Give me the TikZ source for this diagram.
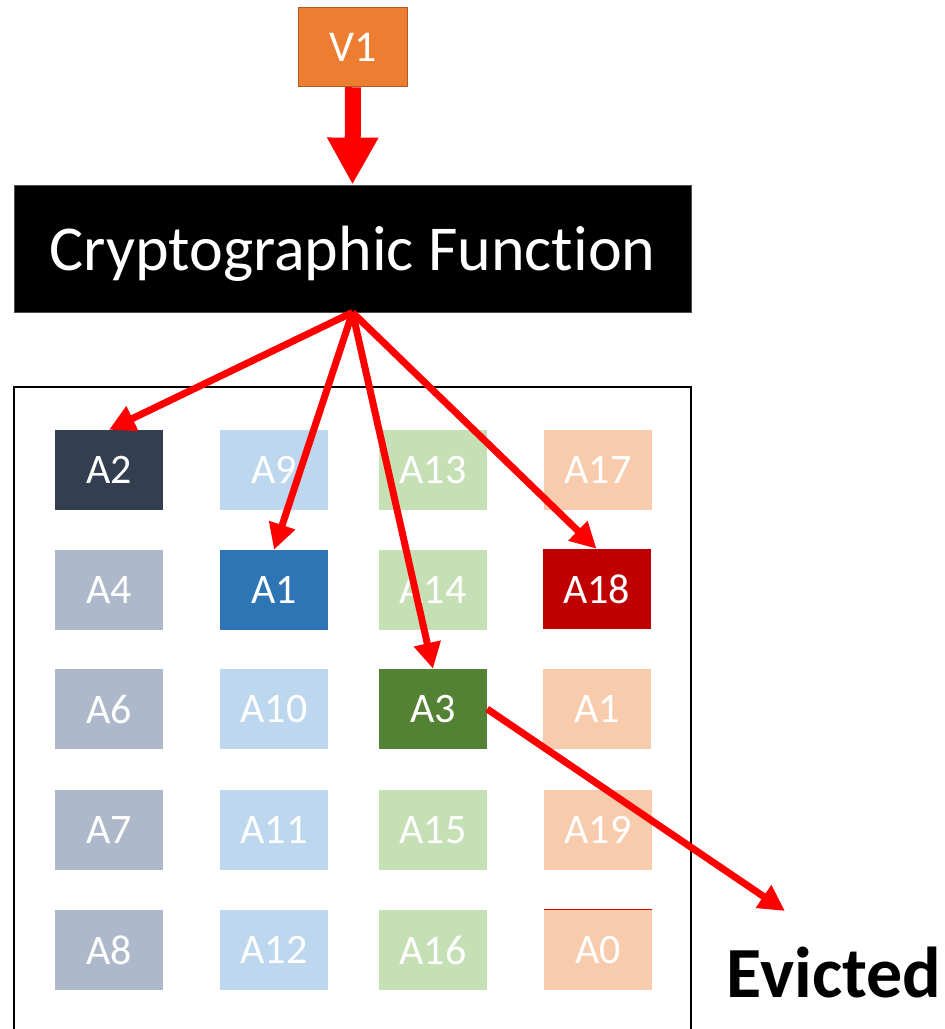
\documentclass[tikz,border=0pt]{standalone}
\usepackage{fontspec}
\setmainfont[RawFeature=-liga]{Carlito}
\usetikzlibrary{arrows.meta}
\definecolor{vorange}{HTML}{ED7D31}
\definecolor{vborder}{HTML}{AE5A21}
\definecolor{greyL}{HTML}{ADB9CA}
\definecolor{greyD}{HTML}{333F50}
\definecolor{blueL}{HTML}{BDD7EE}
\definecolor{blueD}{HTML}{2E75B6}
\definecolor{greenL}{HTML}{C5E0B4}
\definecolor{greenD}{HTML}{548235}
\definecolor{peachL}{HTML}{F8CBAD}
\definecolor{redD}{HTML}{C00000}
\tikzset{
  cell/.style={minimum width=108pt, minimum height=80pt, inner sep=0pt, text=white, font=\fontsize{42}{50}\selectfont},
  hasharrow/.style={draw=red, line width=7pt, -{Triangle[length=26pt,width=26pt]}},
  bigarrow/.style={draw=red, line width=16pt, -{Triangle[length=47pt,width=48pt]}}
}
\begin{document}
\begin{tikzpicture}[x=1pt,y=-1pt]
\useasboundingbox (0,0) rectangle (945,1029);
\clip (0,0) rectangle (945,1029);
\fill[white] (0,0) rectangle (945,1029);

% container
\draw[line width=2pt] (14,387) rectangle (691,1070);

% V1 and function
\node[fill=vorange, draw=vborder, line width=1.5pt, minimum width=109pt, minimum height=79pt, inner sep=0pt, text=white, font=\fontsize{44}{50}\selectfont] (V) at (353,47) {V1};
\node[fill=black, draw=black!70, line width=0.8pt, minimum width=677pt, minimum height=127pt, inner sep=0pt, text=white, text depth=0pt, font=\fontsize{64}{70}\selectfont] (F) at (352.5,248.5) {Cryptographic Function};

% grid
\node[cell, fill=greyD]  (c11) at (109,470) {A2};
\node[cell, fill=blueL]  (c12) at (274,470) {A9};
\node[cell, fill=greenL] (c13) at (433,470) {A13};
\node[cell, fill=peachL] (c14) at (598,470) {A17};

\node[cell, fill=greyL]  (c21) at (109,590) {A4};
\node[cell, fill=blueD]  (c22) at (274,590) {A1};
\node[cell, fill=greenL] (c23) at (433,590) {A14};
\node[cell, fill=redD]   (c24) at (596.5,589) {A18};

\node[cell, fill=greyL]  (c31) at (109,709) {A6};
\node[cell, fill=blueL]  (c32) at (274,709) {A10};
\node[cell, fill=greenD] (c33) at (433,709) {A3};
\node[cell, fill=peachL] (c34) at (597,709) {A1};

\node[cell, fill=greyL]  (c41) at (109,830) {A7};
\node[cell, fill=blueL]  (c42) at (274,830) {A11};
\node[cell, fill=greenL] (c43) at (433,830) {A15};
\node[cell, fill=peachL] (c44) at (598,830) {A19};

\node[cell, fill=greyL]  (c51) at (109,950) {A8};
\node[cell, fill=blueL]  (c52) at (274,950) {A12};
\node[cell, fill=greenL] (c53) at (433,950) {A16};
\node[cell, fill=peachL] (c54) at (598,950) {A0};
\draw[red!85!black, line width=1.2pt] (c54.north west) -- (c54.north east);

% evicted
\node[anchor=base, inner sep=0pt, font=\fontsize{72}{80}\selectfont\bfseries] (ev) at (834,997) {Evicted};
\coordinate (evtip) at (785,911);

% arrows
\draw[bigarrow] (V.south) -- (F.north);
\draw[hasharrow] (F.south) -- (c11.north);
\draw[hasharrow] (F.south) -- (c22.north);
\draw[hasharrow] (F.south) -- (c33.north);
\draw[hasharrow] (F.south) -- (c24.north);
\draw[hasharrow] (c33.east) -- (evtip);
\end{tikzpicture}
\end{document}
